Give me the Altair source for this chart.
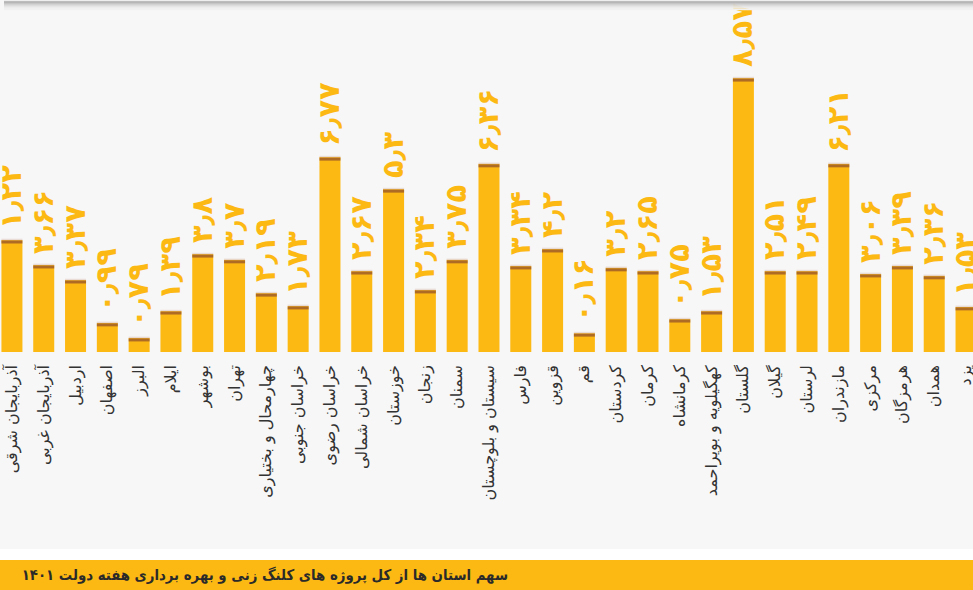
import altair as alt
import pandas as pd

provinces = [
    "آذربایجان شرقی", "آذربایجان غربی", "اردبیل", "اصفهان", "البرز", "ایلام",
    "بوشهر", "تهران", "چهارمحال و بختیاری", "خراسان جنوبی", "خراسان رضوی",
    "خراسان شمالی", "خوزستان", "زنجان", "سمنان", "سیستان و بلوچستان", "فارس",
    "قزوین", "قم", "کردستان", "کرمان", "کرمانشاه", "کهگیلویه و بویراحمد",
    "گلستان", "گیلان", "لرستان", "مازندران", "مرکزی", "هرمزگان", "همدان", "یزد",
]
# value printed above each bar (share, %)
values = [
    1.22, 3.66, 3.37, 0.99, 0.79, 1.39,
    3.8, 3.7, 2.19, 1.73, 6.77,
    2.67, 5.3, 2.34, 3.75, 6.36, 3.34,
    4.2, 0.16, 3.2, 2.65, 0.75, 1.53,
    8.57, 2.51, 2.49, 6.21, 3.06, 3.39, 2.36, 1.53,
]
# drawn bar heights (the infographic bars are not exact)
heights = [
    3.50, 2.72, 2.25, 0.91, 0.44, 1.28,
    3.06, 2.88, 1.84, 1.44, 6.09,
    2.53, 5.09, 1.94, 2.88, 5.88, 2.69,
    3.22, 0.59, 2.63, 2.53, 1.03, 1.28,
    8.56, 2.53, 2.53, 5.88, 2.44, 2.69, 2.38, 1.41,
]
title_text = "سهم استان ها از کل پروژه های کلنگ زنی و بهره برداری هفته دولت ۱۴۰۱"

fa_digits = str.maketrans("0123456789.", "۰۱۲۳۴۵۶۷۸۹٫")


def fa(v):
    return str(v).translate(fa_digits)


df = pd.DataFrame({
    "idx": list(range(len(provinces))),
    "province": provinces,
    "value": values,
    "label": [fa(v) for v in values],
    "h": heights,
})

YELLOW = "#FDB913"
BROWN = "#8B4A2B"
W, H = 973, 590

xs = alt.X("idx:Q", scale=alt.Scale(domain=[-0.218, 30.062], nice=False, zero=False), axis=None)
ysc = alt.Scale(domain=[-7.4375, 11], nice=False, zero=False)
yh = alt.Y("h:Q", scale=ysc, axis=None)

one = pd.DataFrame({"a": [0]})

bg = alt.Chart(one).mark_rect(color="#f7f7f7").encode(
    x=alt.value(0), x2=alt.value(W), y=alt.value(0), y2=alt.value(549)
)
band = alt.Chart(one).mark_rect(color=YELLOW).encode(
    x=alt.value(0), x2=alt.value(W), y=alt.value(560), y2=alt.value(H)
)
title = alt.Chart(one).mark_text(
    text=title_text, font="DejaVu Sans Condensed", fontWeight="bold", fontSize=14.8,
    align="right", baseline="middle", color="#2a2a2a"
).encode(x=alt.value(508), y=alt.value(576))

base = alt.Chart(df)

bars = base.mark_bar(size=21, color=YELLOW, clip=True).encode(
    x=xs, y=yh, y2=alt.Y2(datum=0)
)
cap_light = base.mark_tick(orient="horizontal", size=21, thickness=1.5,
                           color="#e3cfc8", clip=True, yOffset=-0.5).encode(x=xs, y=yh)
cap = base.mark_tick(orient="horizontal", size=21, thickness=3,
                     color=BROWN, clip=True, yOffset=2).encode(x=xs, y=yh)

vlabels = base.mark_text(
    font="DejaVu Sans", fontWeight="bold", fontSize=29, color=YELLOW,
    angle=270, align="left", baseline="middle", yOffset=-11, clip=True
).encode(x=xs, y=yh, text="label:N")

clabels = base.mark_text(
    font="DejaVu Sans", fontSize=16, color="#333333",
    angle=270, align="right", baseline="middle", yOffset=13, clip=True
).encode(x=xs, y=alt.Y(datum=0, scale=ysc), text="province:N")

# top panel edge shadow
shadow_rows = pd.DataFrame({"a": [0]})
shadows = []
for yy, col in [
    (0.5, "#eeeeee"), (2.0, "#a8a8a8"), (3.0, "#b4b4b4"),
    (4.0, "#c4c4c4"), (5.0, "#d2d2d2"), (6.0, "#dddddd"),
    (7.0, "#e6e6e6"), (8.0, "#ececec"), (9.5, "#f1f1f1"),
]:
    shadows.append(
        alt.Chart(shadow_rows).mark_rule(color=col, strokeWidth=1.5).encode(
            x=alt.value(4), x2=alt.value(W), y=alt.value(yy)
        )
    )

chart = alt.layer(bg, band, title, bars, cap_light, cap, vlabels, clabels, *shadows).properties(
    width=W, height=H, padding=0, autosize=alt.AutoSizeParams(type="none"),
    background="#ffffff"
).configure_view(stroke=None)

chart.save("out.html", embed_options={"renderer": "svg", "actions": False})
